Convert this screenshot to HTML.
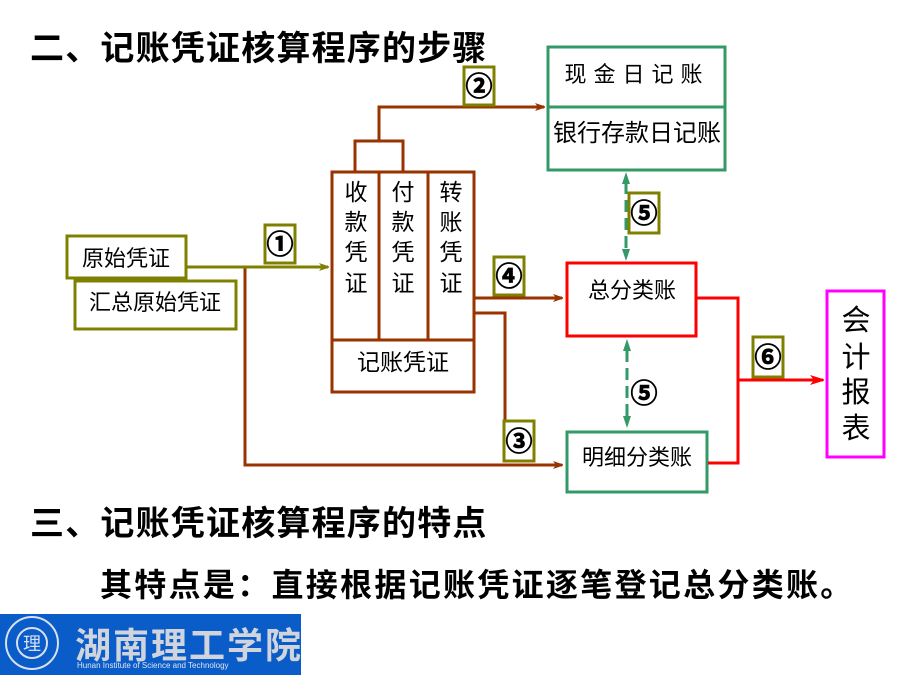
<!DOCTYPE html>
<html><head><meta charset="utf-8"><style>
html,body{margin:0;padding:0;background:#fff;}
svg{display:block;font-family:"Liberation Sans","Noto Sans CJK SC",sans-serif;}
</style></head><body>
<svg width="900" height="675" viewBox="0 0 900 675" xmlns="http://www.w3.org/2000/svg">
<defs>
<marker id="ab" markerWidth="10" markerHeight="8" refX="9" refY="4" orient="auto" markerUnits="userSpaceOnUse"><path d="M0,0 L12,4 L0,8 L3,4z" fill="#993300"/></marker>
<marker id="ao" markerWidth="10" markerHeight="8" refX="9" refY="4" orient="auto" markerUnits="userSpaceOnUse"><path d="M0,0 L12,4 L0,8 L3,4z" fill="#808000"/></marker>
<marker id="ar" markerWidth="14" markerHeight="10" refX="13" refY="5" orient="auto" markerUnits="userSpaceOnUse"><path d="M0,0 L16,5 L0,10 L4,5z" fill="#ff0000"/></marker>
</defs>

<text x="30" y="60" font-size="34" font-weight="bold" letter-spacing="1.2">二、记账凭证核算程序的步骤</text>
<text x="30" y="535" font-size="34" font-weight="bold" letter-spacing="1.2">三、记账凭证核算程序的特点</text>
<text x="100" y="596" font-size="32" font-weight="bold" letter-spacing="2.3">其特点是：直接根据记账凭证逐笔登记总分类账。</text>

<!-- top ledger box -->
<rect x="548" y="47" width="177" height="123" fill="#fff" stroke="#339966" stroke-width="3"/>
<line x1="548" y1="107" x2="725" y2="107" stroke="#339966" stroke-width="3"/>
<text x="637" y="82" font-size="22" text-anchor="middle" letter-spacing="7">现金日记账</text>
<text x="637" y="141" font-size="24" text-anchor="middle">银行存款日记账</text>

<!-- source docs -->
<rect x="75" y="281" width="161" height="48" fill="#fff" stroke="#808000" stroke-width="3"/>
<text x="155" y="310" font-size="22" text-anchor="middle">汇总原始凭证</text>
<rect x="67" y="236" width="119" height="42" fill="#fff" stroke="#808000" stroke-width="3"/>
<text x="126" y="266" font-size="22" text-anchor="middle">原始凭证</text>

<!-- voucher box -->
<rect x="332" y="172" width="142" height="220" fill="#fff" stroke="#993300" stroke-width="3"/>
<line x1="379" y1="172" x2="379" y2="340" stroke="#993300" stroke-width="3"/>
<line x1="428" y1="172" x2="428" y2="340" stroke="#993300" stroke-width="3"/>
<line x1="332" y1="340" x2="474" y2="340" stroke="#993300" stroke-width="3"/>
<g font-size="23" text-anchor="middle">
<text x="356" y="200">收</text><text x="356" y="230">款</text><text x="356" y="260">凭</text><text x="356" y="291">证</text>
<text x="403" y="200">付</text><text x="403" y="230">款</text><text x="403" y="260">凭</text><text x="403" y="291">证</text>
<text x="451" y="200">转</text><text x="451" y="230">账</text><text x="451" y="260">凭</text><text x="451" y="291">证</text>
</g>
<text x="403" y="370" font-size="23" text-anchor="middle">记账凭证</text>

<!-- connectors brown -->
<g stroke="#993300" stroke-width="3" fill="none">
<polyline points="355,172 355,141 403,141 403,172"/>
<polyline points="379,141 379,107 544,107" marker-end="url(#ab)"/>
<line x1="474" y1="298" x2="562" y2="298" marker-end="url(#ab)"/>
<polyline points="474,313 505,313 505,422"/>
<polyline points="245,267 245,465 562,465" marker-end="url(#ab)"/>
</g>
<line x1="187" y1="267" x2="328" y2="267" stroke="#808000" stroke-width="3" marker-end="url(#ao)"/>

<!-- total ledger -->
<rect x="567" y="263" width="129" height="73" fill="#fff" stroke="#ff0000" stroke-width="3"/>
<text x="632" y="298" font-size="22" text-anchor="middle">总分类账</text>
<rect x="567" y="432" width="140" height="60" fill="#fff" stroke="#339966" stroke-width="3"/>
<text x="637" y="465" font-size="22" text-anchor="middle">明细分类账</text>

<!-- red lines -->
<g stroke="#ff0000" stroke-width="3" fill="none">
<polyline points="696,298 738,298 738,463 708,463"/>
<line x1="738" y1="380" x2="823" y2="380" marker-end="url(#ar)"/>
</g>

<!-- report -->
<rect x="827" y="291" width="57" height="166" fill="#fff" stroke="#ff00ff" stroke-width="3"/>
<g font-size="29" text-anchor="middle"><text x="856" y="330">会</text><text x="856" y="367">计</text><text x="856" y="402">报</text><text x="856" y="438">表</text></g>

<!-- green dashed -->
<g stroke="#339966" stroke-width="3" stroke-dasharray="12,6" fill="none">
<line x1="626" y1="182" x2="626" y2="252"/>
<line x1="627" y1="350" x2="627" y2="420"/>
</g>
<path d="M626,172 L622,184 L630,184z M626,261 L622,249 L630,249z M627,339 L623,351 L631,351z M627,428 L623,416 L631,416z" fill="#339966"/>

<!-- number labels -->
<g fill="#fff" stroke="#808000" stroke-width="3">
<rect x="265" y="225" width="30" height="38"/>
<rect x="464" y="67" width="30" height="38"/>
<rect x="504" y="421" width="30" height="40"/>
<rect x="494" y="257" width="30" height="38"/>
<rect x="629" y="193" width="30" height="40"/>
<rect x="753" y="337" width="30" height="40"/>
</g>
<g font-size="27" text-anchor="middle" font-weight="bold" stroke="#000" stroke-width="0.8">
<text x="280" y="254">①</text>
<text x="479" y="96">②</text>
<text x="519" y="451">③</text>
<text x="509" y="286">④</text>
<text x="644" y="223">⑤</text>
<text x="644" y="403">⑤</text>
<text x="768" y="367">⑥</text>
</g>

<!-- logo -->
<rect x="0" y="614" width="301" height="61" fill="#0a5cc8"/>
<circle cx="32" cy="643" r="26" fill="none" stroke="#d8e0f0" stroke-width="2"/>
<circle cx="32" cy="643" r="15" fill="none" stroke="#d8e0f0" stroke-width="2"/>
<text x="32" y="650" font-size="18" fill="#d8e0f0" text-anchor="middle">理</text>
<text x="75" y="658" font-size="36" fill="#d0d4dc" font-weight="bold" letter-spacing="2">湖南理工学院</text>
<text x="77" y="668" font-size="8" fill="#e0e6f0">Hunan Institute of Science and Technology</text>
</svg>
</body></html>
